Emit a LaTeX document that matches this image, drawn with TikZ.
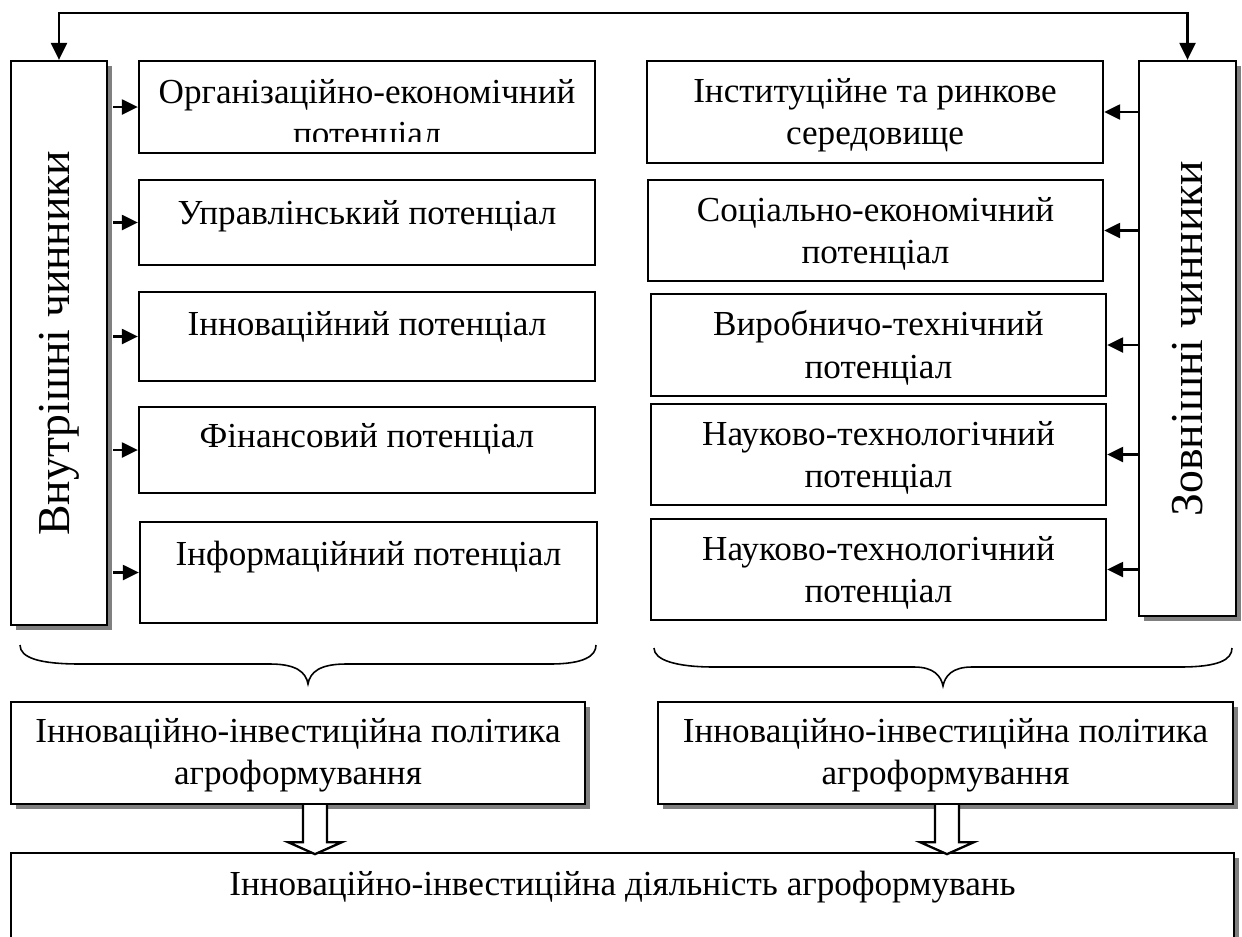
\documentclass[tikz,border=0pt]{standalone}
\usepackage{fontspec}
\setmainfont{Liberation Serif}
\usepackage{graphicx}
\usetikzlibrary{arrows.meta,shadows}

\tikzset{
  txt/.style={align=center, font=\fontsize{20pt}{24pt}\selectfont},
  box/.style={txt, draw, line width=1.3pt, fill=white, inner sep=2pt},
  sz/.style n args={2}{minimum width=#1*0.02cm, minimum height=#2*0.02cm},
  oneline/.style={text height=14pt, text depth=#1},
  twoline/.style={execute at begin node={\rule{0pt}{#1}}},
  side/.style={font=\fontsize{26pt}{30pt}\selectfont},
  shadowed/.style={drop shadow={shadow xshift=0.1cm, shadow yshift=-0.1cm, fill=gray, opacity=1}},
  link/.style={line width=1.3pt, -{Triangle[length=0.32cm, width=0.3cm]}},
  bothlink/.style={line width=1.3pt, {Triangle[length=0.34cm, width=0.32cm]}-{Triangle[length=0.34cm, width=0.32cm]}},
  bracel/.style={line width=0.9pt},
  hollow/.style={line width=1.3pt, fill=white}
}

\begin{document}
\begin{tikzpicture}[x=0.02cm, y=-0.02cm]
  \clip (0,0) rectangle (1242,937);

  % factors
  \node[box, side, shadowed, sz={96}{564}] (inL) at (59,343) {\rotatebox{90}{Внутрішні чинники}};
  \node[box, side, shadowed, sz={97}{555}] (inR) at (1187.5,338.5) {\rotatebox{90}{Зовнішні чинники}};

  % internal potentials
  \node[box, sz={456}{92}] (l1) at (367,107) {};
  \begin{scope}
    \clip (141,63) rectangle (593,141.5);
    \node[txt, anchor=north, inner sep=0pt] (l1t) at (367,79) {Організаційно-економічний\\потенціал};
  \end{scope}
  \node[box, oneline=11.2pt, sz={456}{85}] (l2) at (367,222.5) {Управлінський потенціал};
  \node[box, oneline=15.7pt, sz={456}{89}] (l3) at (367,336.5) {Інноваційний потенціал};
  \node[box, oneline=17.4pt, sz={456}{86}] (l4) at (367,450) {Фінансовий потенціал};
  \node[box, oneline=22.5pt, sz={457}{101}] (l5) at (368.5,572.5) {Інформаційний потенціал};

  % external potentials
  \node[box, twoline=41.5pt, sz={456}{102}] (r1) at (875,112) {Інституційне та ринкове\\середовище};
  \node[box, twoline=41.5pt, sz={455}{101}] (r2) at (875.5,230.5) {Соціально-економічний\\потенціал};
  \node[box, twoline=41.5pt, sz={455}{102}] (r3) at (878.5,345) {Виробничо-технічний\\потенціал};
  \node[box, twoline=41.5pt, sz={455}{101}] (r4) at (878.5,454.5) {Науково-технологічний\\потенціал};
  \node[box, twoline=41.5pt, sz={455}{101}] (r5) at (878.5,569.5) {Науково-технологічний\\потенціал};

  % policy and activity
  \node[box, shadowed, twoline=40.5pt, sz={574}{102}] (pol1) at (298,753) {Інноваційно-інвестиційна політика\\агроформування};
  \node[box, shadowed, twoline=40.5pt, sz={575}{102}] (pol2) at (945.5,753) {Інноваційно-інвестиційна політика\\агроформування};
  \node[box, shadowed, oneline=27pt, sz={1223}{107}] (act) at (622.5,906.5) {Інноваційно-інвестиційна діяльність агроформувань};

  % connectors
  \coordinate (topline) at (620,13);
  \draw[bothlink] (inL.north) |- (topline) -| (inR.north);
  \foreach \i in {1,...,5}
    \draw[link, shorten <=0.1cm] (l\i.west -| inL.east) -- (l\i.west);
  \foreach \i in {1,...,5}
    \draw[link] (r\i.east -| inR.west) -- (r\i.east);

  % braces
  \draw[bracel] (20,645) .. controls (20,658) and (40,664) .. (80,664) -- (270,664)
    .. controls (296,664) and (306,672) .. (308,684)
    .. controls (310,672) and (320,664) .. (346,664) -- (550,664)
    .. controls (584,664) and (596,656) .. (596,645);
  \draw[bracel] (654,648) .. controls (654,660) and (676,667) .. (714,667) -- (914,667)
    .. controls (934,667) and (941,676) .. (943,686)
    .. controls (945,676) and (952,667) .. (972,667) -- (1180,667)
    .. controls (1218,667) and (1232,660) .. (1232,648);

  % hollow arrows
  \draw[hollow] (pol1.south) ++(5,0) -- ++(0,37) -- ++(-15,0) -- ++(27,12)
    -- ++(27,-12) -- ++(-15,0) -- ++(0,-37);
  \draw[hollow] (pol2.south) ++(-10.5,0) -- ++(0,37) -- ++(-15,0) -- ++(27,12)
    -- ++(27,-12) -- ++(-15,0) -- ++(0,-37);
\end{tikzpicture}
\end{document}
